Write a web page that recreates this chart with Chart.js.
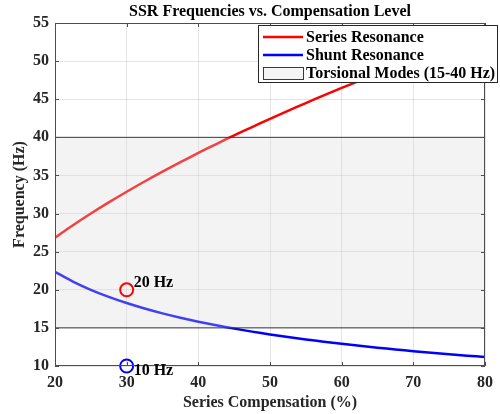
<!DOCTYPE html>
<html><head><meta charset="utf-8">
<script src="https://cdn.jsdelivr.net/npm/chart.js@4"></script>
<style>html,body{margin:0;padding:0;background:#fff}</style>
</head><body>
<canvas id="c" width="500" height="414"></canvas>
<script>
// ---- data ----
const compensation = [20, 22.5, 25, 27.5, 30, 32.5, 35, 37.5, 40, 42.5, 45, 47.5, 50, 52.5, 55, 57.5, 60, 62.5, 65, 67.5, 70, 72.5, 75, 77.5, 80];
const seriesResonance = [26.83, 28.46, 30.00, 31.46, 32.86, 34.21, 35.50, 36.74, 37.95, 39.12, 40.25, 41.35, 42.43, 43.47, 44.50, 45.50, 46.48, 47.43, 48.37, 49.30, 50.20, 51.09, 51.96, 52.82, 53.67];
const shuntResonance = [22.36, 21.08, 20.00, 19.07, 18.26, 17.54, 16.90, 16.33, 15.81, 15.34, 14.91, 14.51, 14.14, 13.80, 13.48, 13.19, 12.91, 12.65, 12.40, 12.17, 11.95, 11.74, 11.55, 11.36, 11.18];
const markerX = [30, 30];
const markerY = [20, 10];
const markerLabels = ['20 Hz', '10 Hz'];
const markerColors = ['#ff0000', '#0000ff'];
const bandLow = 15, bandHigh = 40;
const xRange = [20, 80];
const yRange = [10, 55];
const legendLabels = ['Series Resonance', 'Shunt Resonance', 'Torsional Modes (15-40 Hz)'];
const titleText = 'SSR Frequencies vs. Compensation Level';
const xTitle = 'Series Compensation (%)';
const yTitle = 'Frequency (Hz)';

const FONT = "'Liberation Serif', 'Times New Roman', serif";
const BAND_FILL = 'rgba(215,215,215,0.3)';
const BAND_EDGE = '#3a3a3a';

const pts = (xs, ys) => xs.map((x, i) => ({x, y: ys[i]}));

const decor = {
  id: 'decor',
  afterDraw(chart) {
    const ctx = chart.ctx, a = chart.chartArea;
    const xs = chart.scales.x, ys = chart.scales.y;
    ctx.save();
    // title centred over the plot area
    ctx.font = 'bold 16px ' + FONT; ctx.fillStyle = '#000';
    ctx.textAlign = 'center'; ctx.textBaseline = 'middle';
    ctx.fillText(titleText, (a.left + a.right) / 2, 12);
    // frame + inward ticks
    ctx.strokeStyle = '#4d4d4d'; ctx.lineWidth = 1;
    ctx.strokeRect(Math.round(a.left) + 0.5, Math.round(a.top) + 0.5, Math.round(a.right - a.left) - 1, Math.round(a.bottom - a.top) - 1);
    ctx.beginPath();
    xs.ticks.forEach(t => {
      const px = Math.round(xs.getPixelForValue(t.value)) + 0.5;
      ctx.moveTo(px, a.bottom); ctx.lineTo(px, a.bottom - 4);
      ctx.moveTo(px, a.top); ctx.lineTo(px, a.top + 4);
    });
    ys.ticks.forEach(t => {
      const py = Math.round(ys.getPixelForValue(t.value)) + 0.5;
      ctx.moveTo(a.left, py); ctx.lineTo(a.left + 4, py);
      ctx.moveTo(a.right, py); ctx.lineTo(a.right - 4, py);
    });
    ctx.stroke();
    // marker labels
    ctx.font = 'bold 16px ' + FONT; ctx.fillStyle = '#000';
    ctx.textAlign = 'left'; ctx.textBaseline = 'middle';
    markerLabels.forEach((lab, i) => {
      const px = xs.getPixelForValue(markerX[i]);
      const py = ys.getPixelForValue(markerY[i]);
      ctx.fillText(lab, px + 7, py + (i === 0 ? -7 : 5));
    });
    // legend
    const L = 258, T = 25, W = 240, H = 58;
    ctx.fillStyle = '#fff'; ctx.fillRect(L, T, W, H);
    ctx.strokeStyle = '#262626'; ctx.lineWidth = 1;
    ctx.strokeRect(L + 0.5, T + 0.5, W - 1, H - 1);
    const rows = [37, 55, 73];
    ctx.lineWidth = 2.5;
    ctx.strokeStyle = '#ff0000';
    ctx.beginPath(); ctx.moveTo(263, rows[0]); ctx.lineTo(303, rows[0]); ctx.stroke();
    ctx.strokeStyle = '#0000ff';
    ctx.beginPath(); ctx.moveTo(263, rows[1]); ctx.lineTo(303, rows[1]); ctx.stroke();
    ctx.fillStyle = '#f5f5f5'; ctx.fillRect(263, 67, 40, 12);
    ctx.strokeStyle = BAND_EDGE; ctx.lineWidth = 1;
    ctx.strokeRect(263.5, 67.5, 40, 12);
    ctx.fillStyle = '#000'; ctx.font = 'bold 16px ' + FONT;
    legendLabels.forEach((lab, i) => ctx.fillText(lab, 306, rows[i] + 1));
    ctx.restore();
  }
};

new Chart(document.getElementById('c'), {
  type: 'line',
  data: {
    datasets: [
      { label: legendLabels[0], data: pts(compensation, seriesResonance), borderColor: '#ff0000', borderWidth: 2.5,
        pointRadius: 0, tension: 0.3, fill: false, order: 5 },
      { label: legendLabels[1], data: pts(compensation, shuntResonance), borderColor: '#0000ff', borderWidth: 2.5,
        pointRadius: 0, tension: 0.3, fill: false, order: 4 },
      { label: legendLabels[2], data: pts(xRange, [bandHigh, bandHigh]), borderColor: BAND_EDGE, borderWidth: 1,
        backgroundColor: BAND_FILL, pointRadius: 0, fill: {value: bandLow}, order: 3 },
      { label: 'band-low', data: pts(xRange, [bandLow, bandLow]), borderColor: BAND_EDGE, borderWidth: 1,
        pointRadius: 0, fill: false, order: 2 },
      { label: 'markers', data: pts(markerX, markerY), showLine: false, pointRadius: 6.5, pointBorderWidth: 2,
        pointBorderColor: markerColors, pointBackgroundColor: 'rgba(0,0,0,0)', clip: false, order: 1 }
    ]
  },
  options: {
    responsive: false, animation: false,
    layout: { padding: { left: 0, right: 11, top: 23, bottom: 0 } },
    plugins: {
      legend: { display: false }, tooltip: { enabled: false },
      filler: { drawTime: 'beforeDatasetDraw' },
      title: { display: false }
    },
    scales: {
      x: { type: 'linear', min: xRange[0], max: xRange[1],
        ticks: { stepSize: 10, color: '#262626', font: { family: FONT, size: 16, weight: 'bold' }, padding: 7, maxRotation: 0 },
        grid: { color: 'rgba(38,38,38,0.12)', drawTicks: false },
        border: { display: false },
        title: { display: true, text: xTitle, color: '#262626', font: { family: FONT, size: 16, weight: 'bold' }, padding: { top: 0, bottom: 2 } },
        afterFit(s) { s.height = 48; } },
      y: { type: 'linear', min: yRange[0], max: yRange[1],
        ticks: { stepSize: 5, color: '#262626', font: { family: FONT, size: 16, weight: 'bold' }, padding: 6 },
        grid: { color: 'rgba(38,38,38,0.12)', drawTicks: false },
        border: { display: false },
        title: { display: true, text: yTitle, color: '#262626', font: { family: FONT, size: 16, weight: 'bold' }, padding: { top: 10, bottom: 0 } },
        afterFit(s) { s.width = 55; } }
    }
  },
  plugins: [decor]
});
</script>
</body></html>
